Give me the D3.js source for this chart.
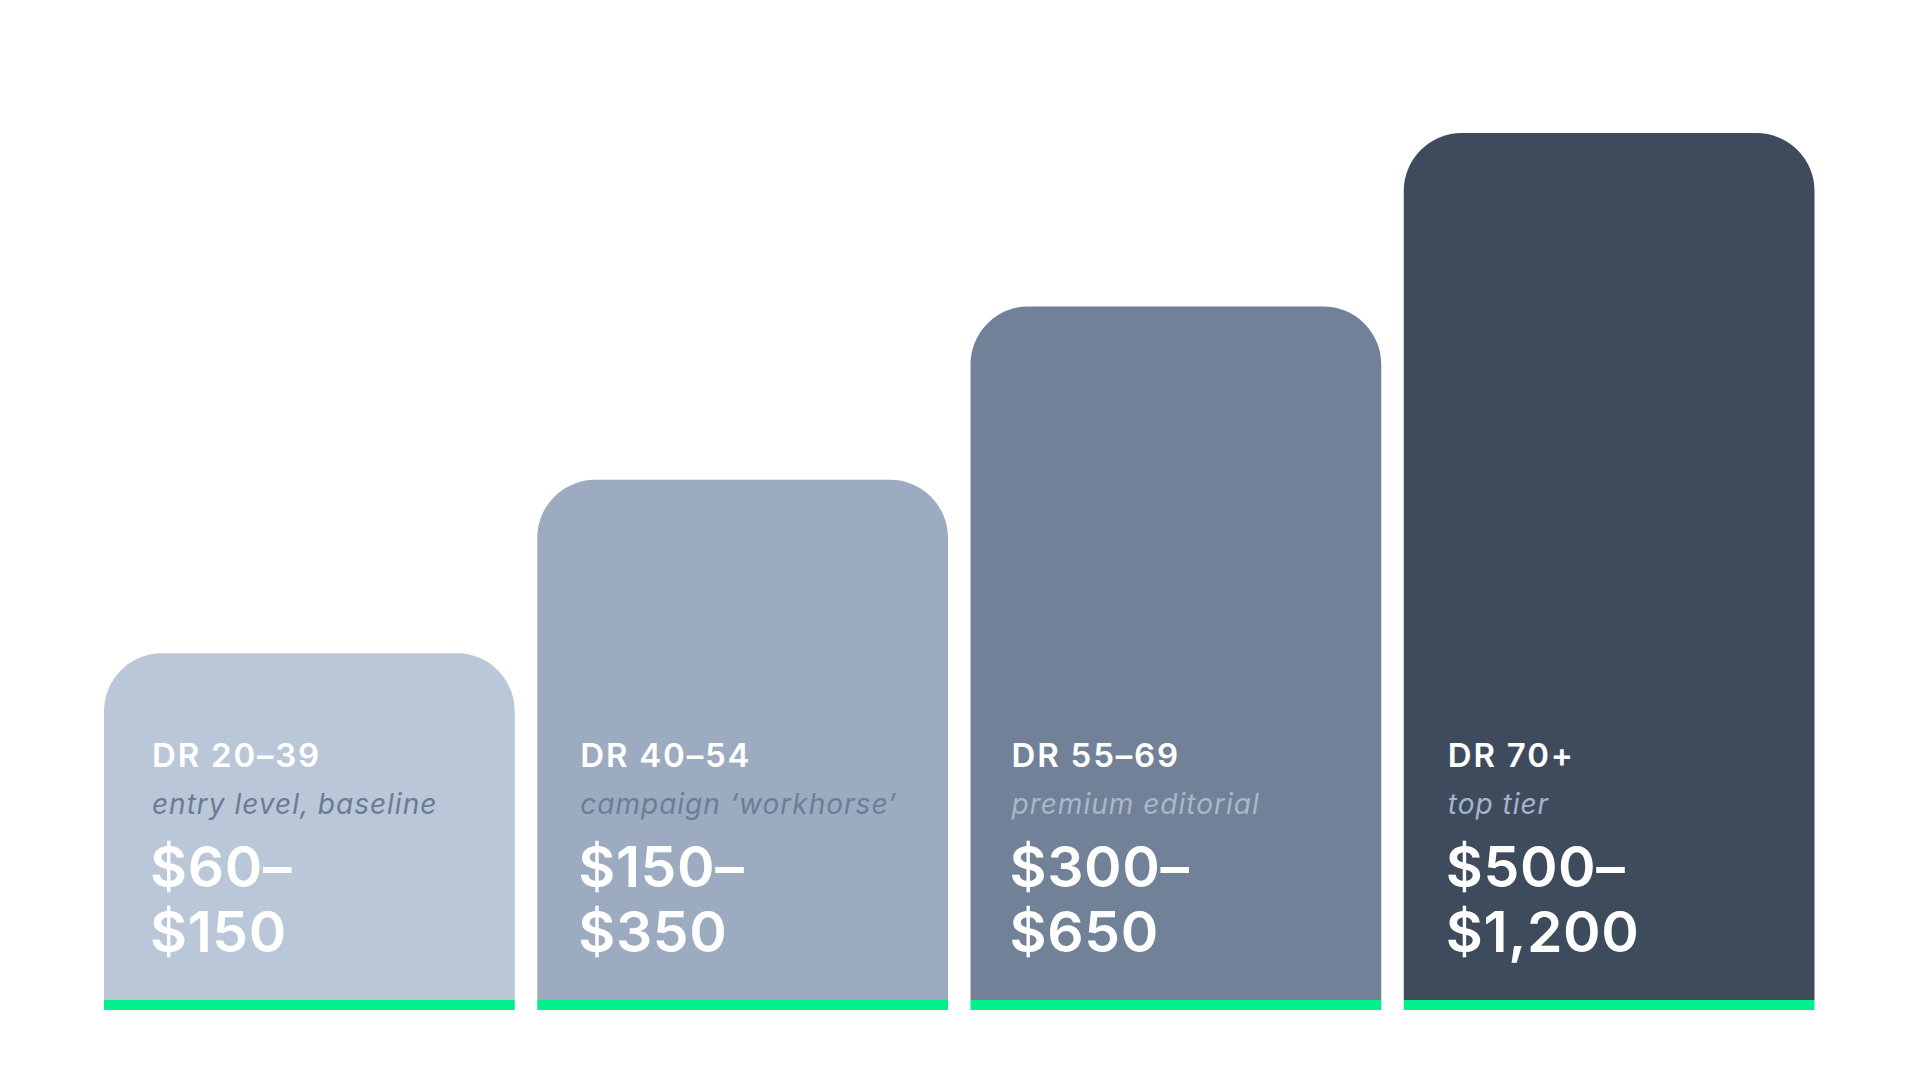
<!DOCTYPE html>
<html>
<head>
<meta charset="utf-8">
<script src="https://cdn.jsdelivr.net/npm/d3@7"></script>
<style>
  html, body { margin: 0; padding: 0; background: #ffffff; }
  svg { display: block; }
  text { font-family: Inter, "Noto Sans", sans-serif; }
</style>
</head>
<body>
<svg id="chart" width="1920" height="1080"></svg>
<script>
// ---- data ----
const tiers = ["DR 20–39", "DR 40–54", "DR 55–69", "DR 70+"];
const subtitles = ["entry level, baseline", "campaign \u2018workhorse\u2019", "premium editorial", "top tier"];
const priceLow = ["$60–", "$150–", "$300–", "$500–"];
const priceHigh = ["$150", "$350", "$650", "$1,200"];
const tierLevel = [2, 3, 4, 5];

// ---- styles ----
const barColors = ["#bac7d8", "#9cabc0", "#708198", "#3e4b5d"];
const subColors = ["#6b7b93", "#6d7d96", "#aab7c9", "#a6b4c7"];
const accent = "#00f08e";
const textPad = [48, 43, 41, 44];

const svg = d3.select("#chart");
const x = d3.scaleBand().domain(tiers).range([104, 1814.5]).paddingInner(0.052).paddingOuter(0);
const y = d3.scaleLinear().domain([0, 5]).range([1000, 133]);
const r = 58;

function topRounded(x0, y0, w, h, rad) {
  const p = d3.path();
  p.moveTo(x0, y0 + h);
  p.lineTo(x0, y0 + rad);
  p.arcTo(x0, y0, x0 + rad, y0, rad);
  p.lineTo(x0 + w - rad, y0);
  p.arcTo(x0 + w, y0, x0 + w, y0 + rad, rad);
  p.lineTo(x0 + w, y0 + h);
  p.closePath();
  return p.toString();
}

const data = tiers.map((t, i) => ({ t, i, v: tierLevel[i] }));

const g = svg.selectAll("g.bar").data(data).join("g").attr("class", "bar");

g.append("path")
  .attr("d", d => topRounded(x(d.t), y(d.v), x.bandwidth(), y(0) - y(d.v), r))
  .attr("fill", d => barColors[d.i]);

g.append("rect")
  .attr("x", d => x(d.t))
  .attr("y", y(0))
  .attr("width", x.bandwidth())
  .attr("height", 10)
  .attr("fill", accent);

g.append("text")
  .attr("x", d => x(d.t) + textPad[d.i])
  .attr("y", 767)
  .attr("fill", "#ffffff")
  .attr("font-size", 33)
  .attr("font-weight", 600)
  .attr("letter-spacing", 1.8)
  .text(d => d.t);

g.append("text")
  .attr("x", d => x(d.t) + textPad[d.i])
  .attr("y", 814)
  .attr("fill", d => subColors[d.i])
  .attr("font-size", 28)
  .attr("font-style", "italic")
  .attr("letter-spacing", 1)
  .text(d => subtitles[d.i]);

g.append("text")
  .attr("x", d => x(d.t) + textPad[d.i] - 2)
  .attr("y", 887)
  .attr("fill", "#ffffff")
  .attr("font-size", 57)
  .attr("font-weight", 600)
  .attr("letter-spacing", 0.6)
  .text(d => priceLow[d.i]);

g.append("text")
  .attr("x", d => x(d.t) + textPad[d.i] - 2)
  .attr("y", 952)
  .attr("fill", "#ffffff")
  .attr("font-size", 57)
  .attr("font-weight", 600)
  .attr("letter-spacing", 0.6)
  .text(d => priceHigh[d.i]);
</script>
</body>
</html>
